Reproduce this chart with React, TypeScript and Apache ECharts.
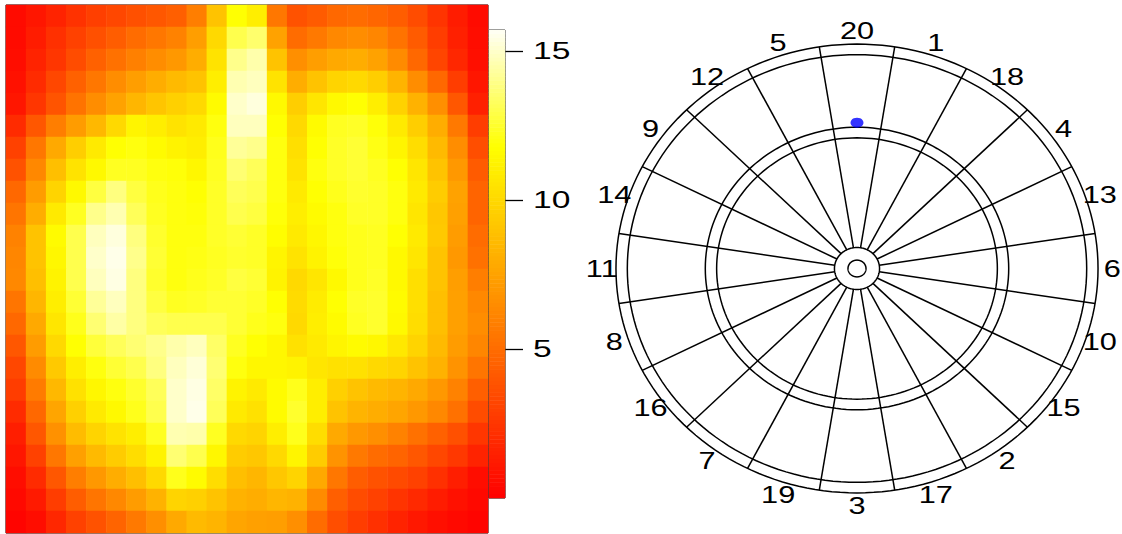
import React, { useEffect, useRef } from "react";
import * as echarts from "echarts";

// Heatmap columns (left→right) and rows (top→bottom)
const heatCols: string[] = Array.from({ length: 24 }, (_, i) => `c${i}`);
const heatRowsCat: string[] = Array.from({ length: 24 }, (_, i) => `r${i}`);

// Expected score values, one array per row (top to bottom)
const heatValues: number[][] = [
  [0.5, 1.0, 1.6, 2.3, 2.9, 3.3, 3.7, 4.0, 4.4, 5.8, 9.0, 11.8, 11.0, 5.5, 3.8, 4.2, 4.8, 5.0, 4.7, 4.3, 3.5, 2.4, 1.3, 0.5],
  [0.5, 1.3, 2.2, 3.0, 3.7, 4.3, 5.0, 5.5, 6.0, 7.3, 10.0, 13.0, 13.5, 7.5, 5.0, 5.6, 6.3, 6.5, 6.2, 5.3, 4.2, 2.8, 1.5, 0.6],
  [0.6, 1.6, 2.5, 3.5, 4.5, 5.2, 5.9, 6.5, 7.0, 8.0, 10.5, 14.0, 14.5, 9.0, 6.6, 7.3, 7.8, 8.0, 7.5, 6.4, 4.8, 3.2, 1.8, 0.7],
  [0.8, 2.0, 3.3, 4.5, 5.5, 6.5, 7.3, 8.0, 8.6, 9.0, 11.0, 14.6, 14.8, 10.5, 8.0, 9.0, 9.8, 10.0, 9.5, 8.3, 6.5, 4.8, 2.8, 1.0],
  [1.0, 2.5, 3.9, 5.3, 6.5, 7.5, 8.4, 9.1, 9.6, 10.0, 11.6, 15.0, 15.3, 11.5, 9.5, 10.6, 11.5, 11.8, 11.0, 9.7, 8.2, 6.6, 4.0, 1.5],
  [2.0, 4.0, 5.8, 7.2, 8.5, 10.0, 11.3, 11.0, 10.5, 10.8, 12.0, 14.8, 14.8, 11.8, 10.0, 11.6, 12.3, 12.4, 11.9, 10.8, 9.5, 8.0, 5.6, 2.8],
  [3.0, 5.5, 7.8, 9.5, 10.8, 11.8, 12.0, 11.6, 11.2, 11.0, 12.2, 14.2, 14.0, 12.0, 10.3, 11.8, 12.4, 12.6, 12.1, 11.3, 10.2, 8.6, 6.5, 3.6],
  [3.8, 6.3, 8.8, 10.5, 11.5, 12.3, 12.3, 12.0, 11.9, 11.4, 12.3, 13.6, 13.2, 12.0, 10.5, 12.0, 12.4, 12.6, 12.3, 11.8, 10.6, 9.0, 7.0, 4.2],
  [4.8, 7.2, 9.8, 11.5, 12.8, 13.8, 12.8, 12.2, 12.0, 11.8, 12.4, 13.2, 13.0, 12.0, 10.8, 11.8, 12.2, 12.5, 12.4, 12.0, 10.8, 9.4, 7.5, 4.6],
  [5.4, 8.0, 10.8, 12.3, 14.0, 14.6, 13.2, 12.3, 12.0, 11.9, 12.4, 13.0, 12.8, 11.9, 11.0, 11.6, 12.0, 12.4, 12.4, 12.0, 10.6, 9.2, 7.4, 4.6],
  [6.0, 9.0, 11.6, 13.0, 14.8, 15.3, 13.8, 12.5, 12.0, 12.0, 12.4, 12.6, 12.4, 11.7, 10.8, 11.4, 12.0, 12.2, 12.3, 11.8, 10.8, 9.3, 7.2, 5.0],
  [6.2, 9.0, 11.4, 13.0, 15.0, 15.5, 14.0, 12.6, 12.0, 12.1, 12.3, 12.5, 12.4, 11.3, 10.5, 11.2, 11.9, 12.2, 12.3, 11.5, 10.6, 9.0, 7.0, 5.2],
  [6.3, 8.8, 11.2, 13.0, 14.8, 15.4, 13.8, 12.5, 12.0, 12.2, 12.4, 12.8, 12.6, 11.2, 10.0, 10.6, 11.5, 12.2, 12.4, 11.5, 10.3, 9.0, 7.3, 5.8],
  [5.4, 8.4, 11.0, 12.6, 14.2, 14.8, 13.8, 12.8, 12.3, 12.4, 12.6, 12.6, 12.4, 11.8, 10.1, 10.9, 11.8, 12.4, 12.5, 11.6, 10.3, 8.8, 7.4, 6.3],
  [4.8, 7.8, 10.6, 12.2, 13.6, 14.4, 13.8, 13.2, 13.0, 13.0, 13.0, 12.6, 12.2, 12.0, 10.0, 11.0, 11.6, 12.3, 12.5, 11.5, 10.2, 8.8, 7.4, 6.5],
  [4.0, 7.2, 10.0, 11.8, 12.7, 13.2, 13.6, 14.0, 14.5, 14.8, 13.4, 12.3, 11.8, 11.4, 10.4, 10.8, 11.3, 11.6, 11.4, 10.7, 9.8, 8.6, 7.2, 6.2],
  [3.3, 6.4, 9.3, 11.0, 12.0, 12.6, 13.0, 13.8, 14.8, 15.2, 13.6, 12.0, 11.4, 11.4, 11.2, 10.6, 10.4, 10.4, 10.0, 9.8, 9.0, 8.2, 6.8, 5.4],
  [2.8, 5.7, 8.5, 10.4, 11.4, 12.0, 12.5, 13.2, 15.0, 15.4, 13.4, 11.2, 10.8, 11.6, 12.2, 11.0, 9.6, 9.0, 8.6, 8.3, 7.8, 7.0, 6.0, 4.4],
  [2.0, 4.8, 7.6, 9.6, 10.8, 11.5, 12.2, 13.0, 15.0, 15.5, 13.2, 10.8, 10.4, 11.6, 12.5, 11.0, 9.0, 8.3, 8.0, 7.6, 7.0, 6.3, 5.2, 3.5],
  [1.4, 4.0, 6.7, 8.7, 9.8, 10.5, 11.0, 12.3, 14.6, 14.5, 12.3, 10.0, 9.8, 11.0, 12.2, 10.2, 7.8, 7.0, 6.6, 6.0, 5.2, 4.5, 3.7, 2.5],
  [1.0, 3.0, 5.5, 7.4, 8.6, 9.4, 10.2, 11.2, 13.6, 13.0, 11.4, 9.4, 9.2, 10.0, 11.3, 9.4, 6.8, 5.6, 5.0, 4.6, 4.0, 3.3, 2.6, 1.6],
  [0.6, 2.0, 4.0, 5.8, 7.0, 8.0, 8.8, 10.0, 12.2, 11.6, 10.2, 8.8, 8.4, 9.2, 9.8, 7.8, 5.5, 4.3, 3.8, 3.4, 3.0, 2.2, 1.4, 0.6],
  [0.4, 1.2, 2.8, 4.3, 5.4, 6.3, 7.2, 8.2, 9.8, 9.6, 9.0, 8.2, 8.0, 8.4, 8.2, 6.4, 4.4, 3.5, 3.0, 2.4, 1.9, 1.3, 0.8, 0.4],
  [0.2, 0.6, 1.8, 3.0, 3.8, 4.6, 5.6, 6.6, 7.8, 8.6, 8.3, 7.6, 7.4, 7.3, 6.6, 5.0, 3.6, 2.8, 2.2, 1.6, 1.1, 0.7, 0.4, 0.2],
];

// Colour scale
const scaleMin = 0;
const scaleMax = 15.7;
const scaleTicks: number[] = [5, 10, 15];
const heatColours: string[] = ["#FF0000", "#FF5500", "#FFAA00", "#FFFF00", "#FFFFF6"];
const barSteps = 120;

// Dartboard (mm)
const ringRadii: number[] = [6.35, 15.9, 99, 107, 162, 170];
const spokeInner = 15.9;
const spokeOuter = 170;
const dartNumbers: number[] = [20, 1, 18, 4, 13, 6, 10, 15, 2, 17, 3, 19, 7, 16, 8, 11, 14, 9, 12, 5];
const labelRadius = 180;
const aimPoint: number[][] = [[0, 110.5]];

const FONT = "Liberation Sans, Arial, sans-serif";

export default function App() {
  const ref = useRef<HTMLDivElement>(null);

  useEffect(() => {
    if (!ref.current) return;
    const chart = echarts.init(ref.current, undefined, { renderer: "svg" });

    const heatData: number[][] = [];
    heatValues.forEach((row, ri) => row.forEach((v, ci) => heatData.push([ci, ri, v])));

    const barCats: string[] = [];
    const barData: number[][] = [];
    for (let i = 0; i < barSteps; i++) {
      barCats.push(`b${i}`);
      barData.push([0, i, scaleMin + ((i + 0.5) * (scaleMax - scaleMin)) / barSteps]);
    }

    const spokeData = dartNumbers.map((_, k) => [k, 0]);
    const labelData = dartNumbers.map((n, k) => [k, n]);
    const ringData = ringRadii.map((r) => [r, 0]);
    const tickLabelData = scaleTicks.map((v) => [0, v]);

    const option: any = {
      animation: false,
      backgroundColor: "#FFFFFF",
      grid: [
        { left: 6, top: 5, width: 482, height: 528, show: true, borderColor: "#000", borderWidth: 1, backgroundColor: "transparent" },
        { left: 489, top: 30, width: 16, height: 468, show: true, borderColor: "#000", borderWidth: 1, backgroundColor: "transparent" },
        { left: 594.7, top: 4.5, width: 524.6, height: 528, show: false },
      ],
      xAxis: [
        { type: "category", gridIndex: 0, data: heatCols, show: false },
        { type: "category", gridIndex: 1, data: ["bar"], show: false },
        { type: "value", gridIndex: 2, min: -185, max: 185, show: false },
      ],
      yAxis: [
        { type: "category", gridIndex: 0, data: heatRowsCat, inverse: true, show: false },
        { type: "category", gridIndex: 1, data: barCats, show: false },
        {
          type: "value",
          gridIndex: 1,
          min: scaleMin,
          max: scaleMax,
          position: "right",
          axisLine: { show: false },
          splitLine: { show: false },
          axisTick: { show: true, length: 18, lineStyle: { color: "#000", width: 1.3 }, customValues: scaleTicks },
          axisLabel: { show: false },
        },
        { type: "value", gridIndex: 2, min: -200, max: 200, show: false },
      ],
      visualMap: {
        type: "continuous",
        show: false,
        min: scaleMin,
        max: scaleMax,
        seriesIndex: [0, 1],
        inRange: { color: heatColours },
      },
      series: [
        {
          type: "heatmap",
          xAxisIndex: 0,
          yAxisIndex: 0,
          data: heatData,
          itemStyle: { borderWidth: 0 },
        },
        {
          type: "heatmap",
          xAxisIndex: 1,
          yAxisIndex: 1,
          data: barData,
          itemStyle: { borderWidth: 0 },
        },
        {
          type: "custom",
          xAxisIndex: 1,
          yAxisIndex: 2,
          data: tickLabelData,
          silent: true,
          renderItem: (params: any, api: any) => {
            const p = api.coord([0, api.value(1)]);
            return {
              type: "text",
              x: p[0] + 36,
              y: p[1],
              scaleX: 1.4,
              style: {
                text: String(api.value(1)),
                fill: "#000",
                fontSize: 24,
                fontFamily: FONT,
                align: "left",
                verticalAlign: "middle",
              },
            };
          },
        },
        {
          type: "custom",
          xAxisIndex: 2,
          yAxisIndex: 3,
          data: ringData,
          silent: true,
          renderItem: (params: any, api: any) => {
            const r = api.value(0);
            const pts: number[][] = [];
            const n = 180;
            for (let k = 0; k < n; k++) {
              const t = (k / n) * Math.PI * 2;
              pts.push(api.coord([r * Math.cos(t), r * Math.sin(t)]));
            }
            return {
              type: "polygon",
              shape: { points: pts },
              style: { fill: "none", stroke: "#000", lineWidth: 1.5 },
            };
          },
        },
        {
          type: "custom",
          xAxisIndex: 2,
          yAxisIndex: 3,
          data: spokeData,
          silent: true,
          renderItem: (params: any, api: any) => {
            const k = api.value(0);
            const a = ((99 - 18 * k) * Math.PI) / 180;
            const p1 = api.coord([spokeInner * Math.cos(a), spokeInner * Math.sin(a)]);
            const p2 = api.coord([spokeOuter * Math.cos(a), spokeOuter * Math.sin(a)]);
            return {
              type: "line",
              shape: { x1: p1[0], y1: p1[1], x2: p2[0], y2: p2[1] },
              style: { stroke: "#000", lineWidth: 1.5 },
            };
          },
        },
        {
          type: "custom",
          xAxisIndex: 2,
          yAxisIndex: 3,
          data: labelData,
          silent: true,
          renderItem: (params: any, api: any) => {
            const k = api.value(0);
            const n = api.value(1);
            const a = ((90 - 18 * k) * Math.PI) / 180;
            const p = api.coord([labelRadius * Math.cos(a), labelRadius * Math.sin(a)]);
            return {
              type: "text",
              x: p[0],
              y: p[1],
              scaleX: 1.28,
              style: {
                text: String(n),
                fill: "#000",
                fontSize: 24,
                fontFamily: FONT,
                align: "center",
                verticalAlign: "middle",
              },
            };
          },
        },
        {
          type: "scatter",
          xAxisIndex: 2,
          yAxisIndex: 3,
          data: aimPoint,
          symbol: "circle",
          symbolSize: [13, 10],
          itemStyle: { color: "#0000FF" },
          silent: true,
        },
      ],
    };

    chart.setOption(option);
    return () => chart.dispose();
  }, []);

  return (
    <div
      ref={ref}
      style={{ position: "fixed", left: 0, top: 0, width: 1122, height: 534, background: "#fff" }}
    />
  );
}
